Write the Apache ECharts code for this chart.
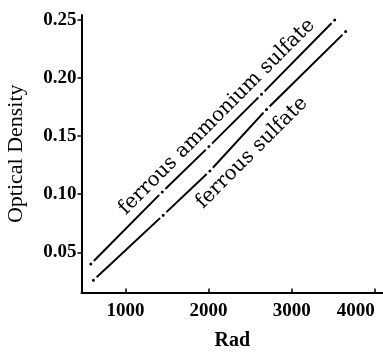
<!DOCTYPE html>
<html>
<head>
    <meta charset="utf-8">
    <script src="https://cdn.jsdelivr.net/npm/echarts@6.0.0/dist/echarts.min.js"></script>
    <style>
        html, body { margin: 0; padding: 0; background: #fff; }
        #chart { width: 383px; height: 352px; }
    </style>
</head>
<body>
<div id="chart"></div>
<script>
    // dose (rad) and optical density
    const doseAmmonium = [582, 1442, 2004, 2637, 3518]
    const odAmmonium = [0.040, 0.102, 0.141, 0.186, 0.250]
    const doseFerrous = [613, 1454, 2016, 2697, 3650]
    const odFerrous = [0.026, 0.082, 0.120, 0.173, 0.240]
    const xTicks = [1000, 2000, 3000, 4000]
    const yTicks = [0.05, 0.10, 0.15, 0.20, 0.25]
    const labelAmmonium = 'ferrous ammonium sulfate'
    const labelFerrous = 'ferrous sulfate'

    const serif = 'Liberation Serif'
    const wideSerif = 'DejaVu Serif'
    const chart = echarts.init(document.getElementById('chart'))

    function zip(xs, ys) {
        return xs.map(function (x, i) { return [x, ys[i]] })
    }

    function lineSeries(name, data) {
        return {
            name: name,
            type: 'line',
            data: data,
            symbol: 'circle',
            symbolSize: 6,
            itemStyle: { color: '#000', borderColor: '#fff', borderWidth: 3 },
            lineStyle: { color: '#000', width: 2 },
            animation: false
        }
    }

    chart.setOption({
        animation: false,
        grid: { left: 81.5, right: 0, top: 15, bottom: 59.5, containLabel: false, outerBoundsMode: 'none' },
        xAxis: {
            type: 'value',
            min: 470,
            max: 4100,
            name: 'Rad',
            nameLocation: 'middle',
            nameGap: 38,
            nameTextStyle: { fontFamily: serif, fontWeight: 'bold', fontSize: 20, color: '#000' },
            splitLine: { show: false },
            axisLine: { lineStyle: { color: '#000', width: 2 } },
            axisTick: { inside: true, length: 4, customValues: xTicks, lineStyle: { color: '#000', width: 1.5 } },
            axisLabel: {
                customValues: xTicks,
                margin: 9,
                fontFamily: serif,
                fontWeight: 'bold',
                fontSize: 19,
                color: '#000',
                alignMaxLabel: 'right',
                formatter: function (v) { return String(v) }
            }
        },
        yAxis: {
            type: 'value',
            min: 0.0154,
            max: 0.2543,
            name: 'Optical Density',
            nameLocation: 'middle',
            nameGap: 54,
            nameTextStyle: { fontFamily: serif, fontSize: 22, color: '#000' },
            splitLine: { show: false },
            axisLine: { lineStyle: { color: '#000', width: 2 } },
            axisTick: { length: 4, customValues: yTicks, lineStyle: { color: '#000', width: 1.5 } },
            axisLabel: {
                customValues: yTicks,
                margin: 5,
                fontFamily: serif,
                fontWeight: 'bold',
                fontSize: 19,
                color: '#000',
                formatter: function (v) { return v.toFixed(2) }
            }
        },
        series: [
            lineSeries(labelAmmonium, zip(doseAmmonium, odAmmonium)),
            lineSeries(labelFerrous, zip(doseFerrous, odFerrous))
        ]
    })

    // curve labels set along the lines
    const p1 = chart.convertToPixel({ gridIndex: 0 }, [2100, 0.1666])
    const p2 = chart.convertToPixel({ gridIndex: 0 }, [2520, 0.1356])
    chart.setOption({
        graphic: [
            {
                type: 'text', x: p1[0], y: p1[1], rotation: Math.PI / 4,
                style: { text: labelAmmonium, fontFamily: wideSerif, fontSize: 20, fill: '#000', align: 'center', verticalAlign: 'middle' }
            },
            {
                type: 'text', x: p2[0], y: p2[1], rotation: Math.PI / 4,
                style: { text: labelFerrous, fontFamily: wideSerif, fontSize: 20, fill: '#000', align: 'center', verticalAlign: 'middle' }
            }
        ]
    })
</script>
</body>
</html>
